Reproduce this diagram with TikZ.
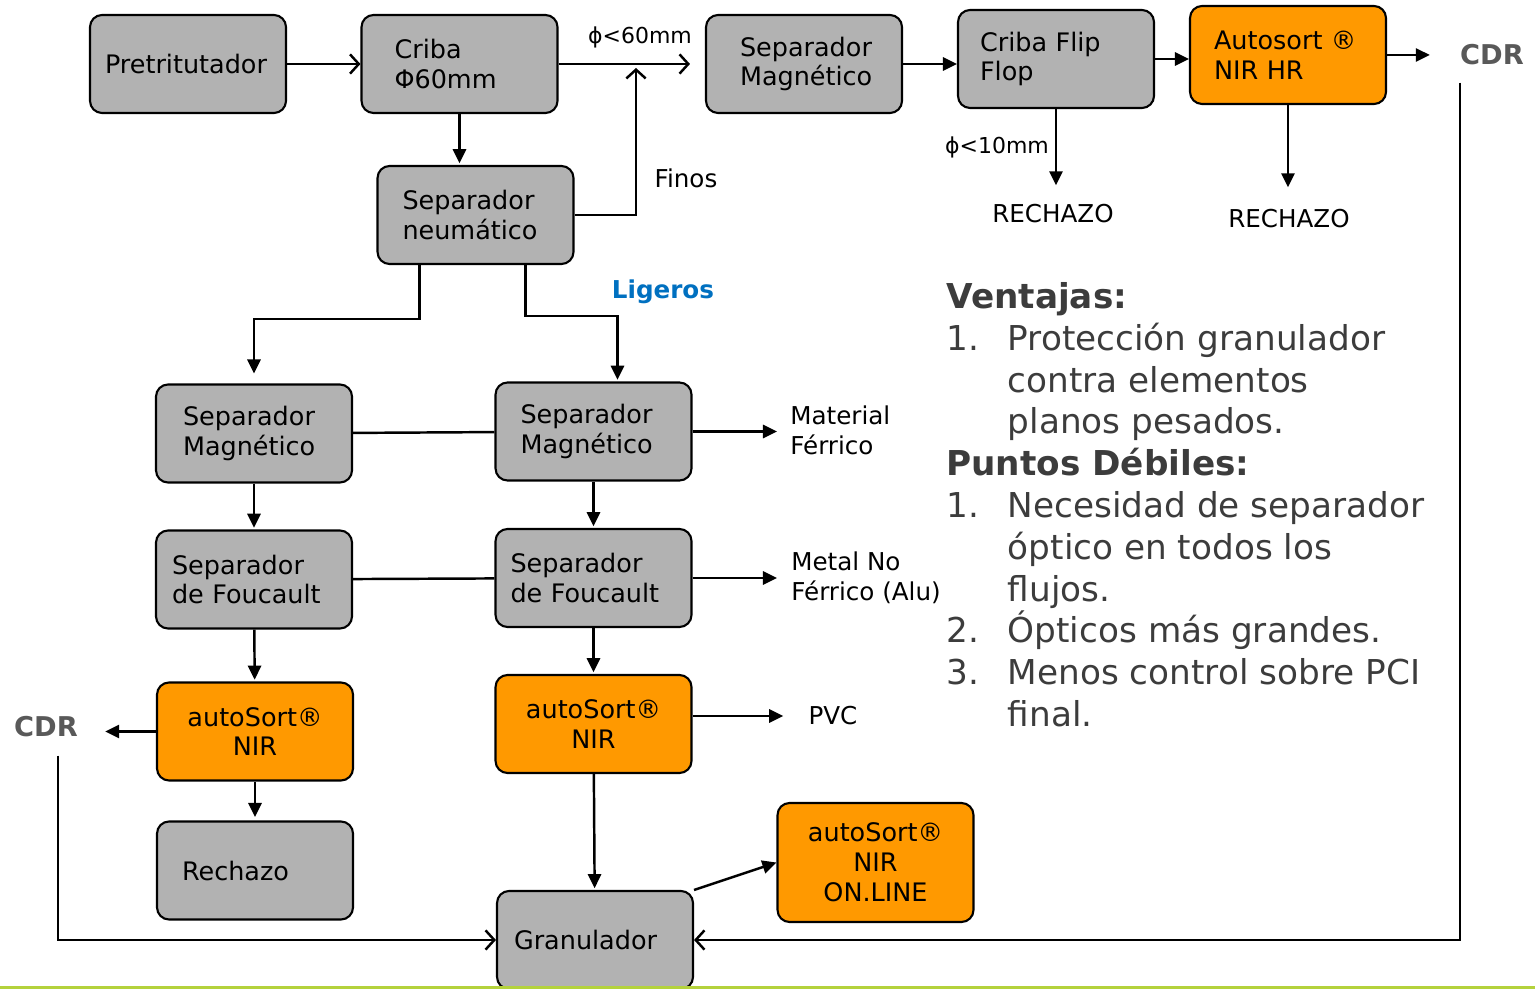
\documentclass[tikz,border=0pt]{standalone}
\usepackage{fontspec}
\setmainfont{DejaVu Sans}
\usetikzlibrary{arrows.meta,calc,positioning}
\hyphenpenalty=10000

\definecolor{grisbox}{HTML}{B2B2B2}
\definecolor{naranja}{HTML}{FF9900}
\definecolor{azul}{HTML}{0070C0}
\definecolor{griscdr}{HTML}{595959}
\definecolor{gristexto}{HTML}{3C3C3C}
\definecolor{verde}{HTML}{B4D23C}

\tikzset{
  caja/.style={draw=black, line width=1.2pt, rounded corners=0.24cm, fill=grisbox,
    minimum width=3.92cm, minimum height=1.96cm, align=left,
    inner xsep=0.5cm, text width=2.92cm,
    font=\fontsize{14.5}{17}\selectfont},
  sorter/.style={caja, fill=naranja, align=center},
  etiq/.style={font=\fontsize{14}{17}\selectfont, align=left, inner sep=0pt},
  cdr/.style={font=\fontsize{15.5}{18}\selectfont\bfseries, text=griscdr, inner sep=0pt},
  flecha/.style={line width=1.4pt, -{Triangle[length=8pt,width=7.5pt]}},
  abierta/.style={line width=1.4pt, -{Straight Barb[length=5pt,width=11pt]}},
  linea/.style={line width=1.4pt},
}

\begin{document}
\begin{tikzpicture}[x=0.02cm, y=-0.02cm]
    \useasboundingbox (0,0) rectangle (1535,989);

    % Fila superior
    \node[caja, inner xsep=0.3cm, text width=3.32cm] (pre) at (188,64) {Pretritutador};
    \node[caja, inner xsep=0.66cm, text width=2.6cm] (criba) at (459.5,64) {Criba\\Φ60mm};
    \node[caja, inner xsep=0.68cm, text width=2.56cm] (magT) at (804,64) {Separador\\Magnético};
    \node[caja, inner xsep=0.44cm, text width=3.04cm] (flip) at (1056,59) {Criba Flip\\Flop};
    \node[caja, fill=naranja, inner xsep=0.48cm, text width=2.96cm] (auto) at (1288,55) {Autosort ®\\NIR HR};
    \node[cdr] (cdrR) at (1492,55) {CDR};

    \node[caja] (neu) at (475.5,215) {Separador\\neumático};

    % Columna izquierda
    \node[caja, inner xsep=0.54cm, text width=2.84cm] (magL) at (254,433.5) {Separador\\Magnético};
    \node[caja, inner xsep=0.32cm, text width=3.28cm] (fouL) at (254,579.5) {Separador\\de Foucault};
    \node[sorter] (autoL) at (255,731.5) {autoSort®\\NIR};
    \node[caja] (rech) at (255,870.5) {Rechazo};
    \node[cdr] (cdrL) at (46,727) {CDR};

    % Columna derecha
    \node[caja] (magR) at (593.5,431.5) {Separador\\Magnético};
    \node[caja, inner xsep=0.3cm, text width=3.32cm] (fouR) at (593.5,578) {Separador\\de Foucault};
    \node[sorter] (autoR) at (593.5,724) {autoSort®\\NIR};
    \node[caja, inner xsep=0.34cm, text width=3.24cm] (gran) at (595,940) {Granulador};
    \node[sorter, minimum height=2.38cm] (online) at (875.5,862.5) {autoSort®\\NIR\\ON.LINE};

    % Etiquetas
    \node[etiq, font=\fontsize{12.5}{15}\selectfont] (phi60) at (640,37) {ϕ<60mm};
    \node[etiq] (finos) at (686,178) {Finos};
    \node[etiq, font=\fontsize{12.5}{15}\selectfont] (phi10) at (997,147) {ϕ<10mm};
    \node[etiq] (rechA) at (1053,214) {RECHAZO};
    \node[etiq] (rechB) at (1289,219) {RECHAZO};
    \node[etiq, font=\fontsize{14}{17}\selectfont\bfseries, text=azul] (lig) at (663,292) {Ligeros};
    \node[etiq, anchor=west] (matR) at (790,430) {Material\\Férrico};
    \node[etiq, anchor=west] (metal) at (791,578) {Metal No\\Férrico (Alu)};
    \node[etiq] (pvc) at (833,716) {PVC};

    % Flujo principal arriba
    \draw[abierta] (pre) -- (criba);
    \draw[abierta, shorten >=0.3cm] (criba) -- (magT);
    \coordinate (union) at (636,64);
    \draw[abierta, shorten >=0.08cm] (neu.east) -| (union);
    \draw[flecha, shorten >=1pt] (criba.south) -- (criba.south |- neu.north);
    \draw[flecha] (magT.east) -- (magT.east -| flip.west);
    \draw[flecha] (flip.east) -- (flip.east -| auto.west);
    \draw[flecha, shorten >=0.6cm] (auto.east) -- (auto.east -| cdrR.west);
    \draw[flecha, shorten >=0.38cm] (flip.south) -- (flip.south |- rechA.north);
    \draw[flecha, shorten >=0.44cm] (auto.south) -- (auto.south |- rechB.north);

    % Separador neumatico -> dos ramas
    \draw[flecha, shorten >=0.2cm] ($(neu.south)+(-56,0)$) -- ++(0,54) -| (magL.north);
    \draw[flecha, shorten >=1pt] ($(neu.south)+(50,0)$) -- ++(0,51) -| ($(magR.north)+(24,0)$);

    % Columnas
    \draw[linea] (magL) -- (magR);
    \draw[linea] (fouL) -- (fouR);
    \draw[flecha, shorten >=1pt] (magL) -- (fouL);
    \draw[flecha, shorten >=1pt] (magR) -- (fouR);
    \draw[flecha, shorten >=1pt] (fouL) -- (autoL);
    \draw[flecha, shorten >=1pt] (fouR) -- (autoR);
    \draw[flecha, shorten >=2pt] (autoL) -- (rech);
    \draw[flecha, shorten >=1pt] (autoR) -- (gran);

    % Salidas laterales
    \draw[flecha, shorten >=0.26cm] (magR.east) -- (magR.east -| matR.west);
    \draw[flecha, shorten >=0.28cm] (fouR.east) -- (fouR.east -| metal.west);
    \draw[flecha, shorten >=0.5cm] (autoR.east |- pvc) -- (pvc.west);
    \draw[flecha, shorten >=0.54cm] (autoL.west) -- (autoL.west -| cdrL.east);
    \draw[flecha] (gran.north east) -- (online.west);

    % Retornos al granulador
    \draw[abierta] ($(cdrL.south)+(12,18)$) |- (gran.west);
    \draw[abierta] ($(cdrR.south west)+(0,17)$) |- (gran.east);

    % Ventajas / puntos debiles
    \node[anchor=north west, inner sep=0pt, align=left, text=gristexto,
          font=\fontsize{19.5}{23.8}\selectfont] (texto) at (946,282) {%
        \textbf{Ventajas:}\\
        \makebox[35pt][l]{1.}Protección granulador\\
        \hspace*{35pt}contra elementos\\
        \hspace*{35pt}planos pesados.\\
        \textbf{Puntos Débiles:}\\
        \makebox[35pt][l]{1.}Necesidad de separador\\
        \hspace*{35pt}óptico en todos los\\
        \hspace*{35pt}flujos.\\
        \makebox[35pt][l]{2.}Ópticos más grandes.\\
        \makebox[35pt][l]{3.}Menos control sobre PCI\\
        \hspace*{35pt}final.};

    % Linea verde inferior
    \draw[verde, line width=1.2pt] (0,987.5) -- (1535,987.5);
\end{tikzpicture}
\end{document}
